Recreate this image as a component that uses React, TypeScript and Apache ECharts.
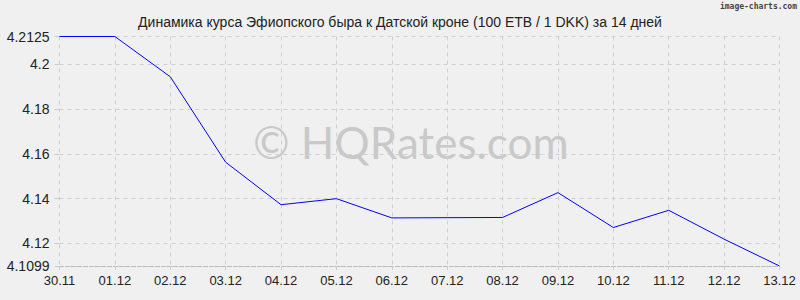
import React, { useEffect, useRef } from "react";
import * as echarts from "echarts";

const titleText = "Динамика курса Эфиопского быра к Датской кроне (100 ETB / 1 DKK) за 14 дней";
const categories = ["30.11", "01.12", "02.12", "03.12", "04.12", "05.12", "06.12", "07.12", "08.12", "09.12", "10.12", "11.12", "12.12", "13.12"];
const rates = [4.2125, 4.2125, 4.1945, 4.1563, 4.1373, 4.14, 4.1314, 4.1315, 4.1316, 4.1427, 4.1271, 4.1348, 4.1219, 4.1099];
const yTicks = [4.1099, 4.12, 4.14, 4.16, 4.18, 4.2, 4.2125];
const yMin = 4.1099;
const yMax = 4.2125;

export default function App() {
  const ref = useRef<HTMLDivElement>(null);
  useEffect(() => {
    if (!ref.current) return;
    const chart = echarts.init(ref.current, null, { renderer: "svg" });
    chart.setOption({
      animation: false,
      backgroundColor: "#f0f0f0",
      textStyle: { fontFamily: "Liberation Sans, Arial, sans-serif" },
      title: {
        text: titleText,
        left: "center",
        top: 10,
        textStyle: { fontSize: 14, fontWeight: "normal", color: "#222", fontFamily: "Liberation Sans, Arial, sans-serif" },
      },
      graphic: [
        {
          type: "text",
          right: 3,
          top: 2,
          style: { text: "image-charts.com", fontSize: 8, fontWeight: "bold", fill: "#444", fontFamily: "DejaVu Sans Mono, monospace" },
        },
        {
          type: "text",
          left: 253,
          top: 120,
          silent: true,
          z: -1,
          style: { text: "© HQRates.com", fontSize: 44, fill: "#c9c9c9", fontFamily: "Lato, Noto Sans, sans-serif" },
        },
      ],
      grid: { left: 59.5, right: 20.5, top: 36.5, bottom: 34, containLabel: false },
      xAxis: {
        type: "category",
        data: categories,
        boundaryGap: false,
        axisLine: { show: true, lineStyle: { color: "#bbb", type: "dashed", width: 1 } },
        axisTick: { show: true, length: 5, lineStyle: { color: "#ccc", type: "dashed" } },
        axisLabel: { fontSize: 13, color: "#222", margin: 8, fontFamily: "Liberation Sans, Arial, sans-serif" },
        splitLine: { show: true, lineStyle: { color: "#cfcfcf", type: [4, 4] } },
      },
      yAxis: {
        type: "value",
        min: yMin,
        max: yMax,
        axisLine: { show: false },
        axisTick: { show: true, length: 5, customValues: yTicks, lineStyle: { color: "#ccc" } },
        axisLabel: { fontSize: 14, color: "#222", margin: 10, customValues: yTicks, showMinLabel: true, showMaxLabel: true, fontFamily: "Liberation Sans, Arial, sans-serif" },
        splitLine: { show: true, lineStyle: { color: "#cfcfcf", type: [4, 4] } },
      },
      series: [
        {
          type: "line",
          data: rates,
          showSymbol: false,
          symbol: "none",
          lineStyle: { color: "#0000ff", width: 1 },
          z: 3,
        },
      ],
    });
    return () => chart.dispose();
  }, []);
  return <div ref={ref} style={{ width: 800, height: 300, position: "absolute", left: 0, top: 0 }} />;
}
